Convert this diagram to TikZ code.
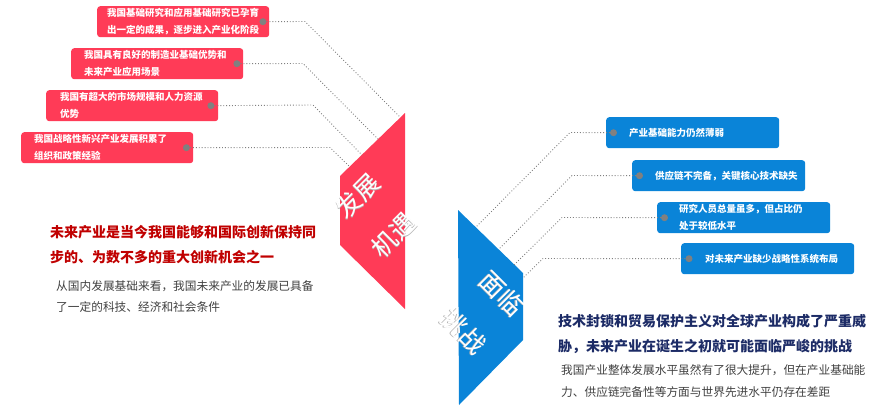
\documentclass[tikz,border=0pt]{standalone}
\usepackage{fontspec}
\newfontfamily\cjk{Noto Sans CJK SC}
\usetikzlibrary{positioning}
\definecolor{oppred}{HTML}{FF3B57}
\definecolor{chalblue}{HTML}{0A84D8}
\definecolor{headred}{HTML}{C00000}
\definecolor{headblue}{HTML}{1C2B66}
\definecolor{bodygray}{HTML}{404040}
% white word with a soft grey shadow
\newcommand{\shadowword}[1]{\makebox[0pt][l]{\hspace{-0.9pt}\raisebox{-0.9pt}{\color{gray!60}#1}}#1}
\tikzset{
  redbox/.style={fill=oppred, rounded corners=3pt, minimum width=172pt, minimum height=31pt, anchor=north west, inner sep=0pt},
  bluebox/.style={fill=chalblue, rounded corners=3pt, minimum width=173pt, minimum height=31pt, anchor=north west, inner sep=0pt},
  boxtext/.style={text=white, font=\cjk\bfseries\fontsize{9.5}{17}\selectfont, align=left, inner sep=0pt},
  dot/.style={circle, fill=gray, minimum size=7pt, inner sep=0pt},
  leader/.style={gray, dotted, line width=0.9pt},
  bigword/.style={text=white, font=\cjk\fontsize{25}{25}\selectfont, inner sep=0pt},
  headline/.style={font=\cjk\bfseries\fontsize{14}{25.5}\selectfont, align=left, inner sep=0pt, anchor=west},
  bodyline/.style={text=bodygray, font=\cjk\fontsize{11.7}{21.5}\selectfont, align=left, inner sep=0pt, anchor=west}
}
\begin{document}
\begin{tikzpicture}[x=1pt, y=-1pt]
\useasboundingbox (0,0) rectangle (879,407);
% the two banners
\fill[oppred] (405,113) -- (340,176) -- (340,245) -- (405,309) -- cycle;
\fill[chalblue] (458,210) -- (523,273) -- (523,340) -- (459,405) -- cycle;
% bends and ends of the leaders
\coordinate (k1) at (305,21.5);  \coordinate (e1) at (400,117);
\coordinate (k2) at (303,63.5);  \coordinate (e2) at (378,139);
\coordinate (k3) at (313,105);   \coordinate (e3) at (362,155);
\coordinate (k4) at (330,147.5); \coordinate (e4) at (350,167);
\coordinate (m1) at (570,132.5); \coordinate (f1) at (476,227);
\coordinate (m2) at (572,175.5); \coordinate (f2) at (499,249);
\coordinate (m3) at (562,217.5); \coordinate (f3) at (514,265);
\coordinate (m4) at (543,258.5); \coordinate (f4) at (523,278);
% left boxes
\node[redbox] (b1) at (97,6) {};
\node[redbox] (b2) at (71,48) {};
\node[redbox] (b3) at (46,90) {};
\node[redbox] (b4) at (21,132) {};
\node[boxtext, right=10pt of b1.west] (t1) {我国基础研究和应用基础研究已孕育\\出一定的成果，逐步进入产业化阶段};
\node[boxtext, right=13pt of b2.west] (t2) {我国具有良好的制造业基础优势和\\未来产业应用场景};
\node[boxtext, right=14pt of b3.west] (t3) {我国有超大的市场规模和人力资源\\优势};
\node[boxtext, right=13pt of b4.west] (t4) {我国战略性新兴产业发展积累了\\组织和政策经验};
\node[dot] (d1) at ([xshift=-6.5pt]b1.east) {};
\node[dot] (d2) at ([xshift=-6.5pt]b2.east) {};
\node[dot] (d3) at ([xshift=-7.5pt]b3.east) {};
\node[dot] (d4) at ([xshift=-7pt]b4.east) {};
\draw[leader] (d1) -- (k1) -- (e1);
\draw[leader] (d2) -- (k2) -- (e2);
\draw[leader] (d3) -- (k3) -- (e3);
\draw[leader] (d4) -- (k4) -- (e4);
% right boxes
\node[bluebox] (c1) at (606,117) {};
\node[bluebox] (c2) at (632,160) {};
\node[bluebox] (c3) at (657,202) {};
\node[bluebox] (c4) at (681,243) {};
\node[boxtext, right=23pt of c1.west] (u1) {产业基础能力仍然薄弱};
\node[boxtext, right=23pt of c2.west] (u2) {供应链不完备，关键核心技术缺失};
\node[boxtext, right=22pt of c3.west] (u3) {研究人员总量虽多，但占比仍\\处于较低水平};
\node[boxtext, right=24pt of c4.west] (u4) {对未来产业缺少战略性系统布局};
\node[dot] (p1) at ([xshift=7.5pt]c1.west) {};
\node[dot] (p2) at ([xshift=7.5pt]c2.west) {};
\node[dot] (p3) at ([xshift=7.5pt]c3.west) {};
\node[dot] (p4) at ([xshift=8pt]c4.west) {};
\draw[leader] (p1) -- (m1) -- (f1);
\draw[leader] (p2) -- (m2) -- (f2);
\draw[leader] (p3) -- (m3) -- (f3);
\draw[leader] (p4) -- (m4) -- (f4);
% banner words
\node[bigword, rotate=45] (w1) at (358,196) {\shadowword{发展}};
\node[bigword, rotate=45] (w2) at (394,235) {\shadowword{机遇}};
\node[bigword, rotate=-45] (w3) at (502,294) {\shadowword{面临}};
\node[bigword, rotate=-45] (w4) at (464,332) {\shadowword{挑战}};
% texts under the boxes
\node[headline, text=headred] (h1) at (50,244.5) {未来产业是当今我国能够和国际创新保持同\\步的、为数不多的重大创新机会之一};
\node[bodyline] (g1) at (56,296.5) {从国内发展基础来看，我国未来产业的发展已具备\\了一定的科技、经济和社会条件};
\node[headline, text=headblue] (h2) at (558,334) {技术封锁和贸易保护主义对全球产业构成了严重威\\胁，未来产业在诞生之初就可能面临严峻的挑战};
\node[bodyline] (g2) at (561,381) {我国产业整体发展水平虽然有了很大提升，但在产业基础能\\力、供应链完备性等方面与世界先进水平仍存在差距};
\end{tikzpicture}
\end{document}
